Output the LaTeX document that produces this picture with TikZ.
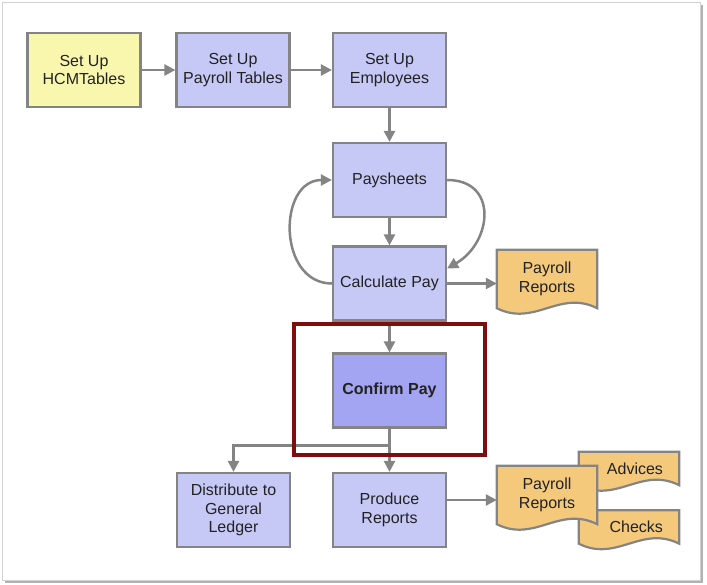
\documentclass[tikz,border=0pt]{standalone}
\usepackage{fontspec}
\setmainfont{Liberation Sans}
\usepackage{xcolor}
\usepackage{tikz}
\usetikzlibrary{arrows.meta}
\usetikzlibrary{backgrounds}

\definecolor{lineGray}{HTML}{848484}
\definecolor{stepFill}{HTML}{C6C8F6}
\definecolor{hcmFill}{HTML}{F9F7AE}
\definecolor{confFill}{HTML}{A3A5F2}
\definecolor{docFill}{HTML}{F5C97B}
\definecolor{markRed}{HTML}{7E0E0E}
\definecolor{txt}{HTML}{222222}

\begin{document}
\begin{tikzpicture}[
      >={Triangle[length=11pt, width=11pt]},
      x=1pt, y=-1pt,
      font=\fontsize{16}{18.5}\selectfont,
      stepbox/.style={draw=lineGray, line width=2.2pt, fill=stepFill, text=txt,
        minimum width=113pt, minimum height=74pt, align=center, inner sep=0pt},
      docnode/.style={minimum width=100pt, align=center, inner sep=0pt, text=txt},
      sidedoc/.style={docnode, text width=68pt, inner xsep=16pt, align=right},
      docline/.style={draw=lineGray, line width=2.2pt, fill=docFill},
      flow/.style={draw=lineGray, line width=2.5pt, ->},
      plain/.style={draw=lineGray, line width=2.5pt}
    ]
    \useasboundingbox (0,0) rectangle (707,584);

    % Cornice
    \draw[black!30, line width=2pt] (5,581.5) -- (701.5,581.5) -- (701.5,5);
    \draw[black!18, line width=1pt] (2.5,2.5) rectangle (700.5,580);

    % Passi
    \node[stepbox, fill=hcmFill] (hcm)  at (84,70)    {Set Up\\HCMTables};
    \node[stepbox] (payt) at (233,70)   {Set Up\\Payroll Tables};
    \node[stepbox] (emp)  at (389.5,70) {Set Up\\Employees};
    \node[stepbox] (pays) at (389.5,180) {Paysheets};
    \node[stepbox] (calc) at (389.5,283.5) {Calculate Pay};
    \node[stepbox, fill=confFill, font=\fontsize{16}{18.5}\selectfont\bfseries] (conf) at (389.5,390.5) {Confirm Pay};
    \node[stepbox] (dist) at (233.5,510) {Distribute to\\General\\Ledger};
    \node[stepbox] (prod) at (389.5,510) {Produce\\Reports};

    % Documenti
    \node[sidedoc, minimum height=33pt] (adv)  at (629,468.5) {Advices};
    \node[sidedoc, minimum height=33pt] (chk)  at (629,527)   {Checks};
    \node[docnode, minimum height=58pt] (rep)  at (547,279)   {Payroll\\Reports};
    \node[docnode, minimum height=58pt] (rep2) at (547,495)   {Payroll\\Reports};

    \begin{scope}[on background layer]
      \foreach \d in {adv, chk, rep, rep2}
        \path[docline] (\d.north west) -- (\d.north east) -- (\d.south east)
          .. controls ([xshift=-38pt, yshift=19pt]\d.south east)
          and ([xshift=38pt, yshift=-19pt]\d.south west) .. (\d.south west) -- cycle;
    \end{scope}

    % Frecce
    \draw[flow] (hcm) -- (payt);
    \draw[flow] (payt) -- (emp);
    \draw[flow] (emp) -- (pays);
    \draw[flow] (pays) -- (calc);
    \draw[flow] (calc) -- (calc -| rep.west);
    \draw[flow] (calc) -- (conf);
    \draw[flow] (calc.west) to[out=180, in=180, looseness=1.35] (pays.west);
    \draw[flow] (pays.east) to[out=0, in=30, looseness=1.5] ([yshift=15pt]calc.east);

    % Diramazione
    \coordinate (split) at ([yshift=-17pt]conf.south);
    \draw[plain] (conf) -- (split);
    \draw[flow] (split) -| (dist);
    \draw[flow] (split) -- (prod);
    \draw[flow] ([yshift=10pt]prod.east) -- ([yshift=10pt]prod.east -| rep2.west);

    % Evidenziazione
    \draw[markRed, line width=4pt] ([xshift=-38pt, yshift=28pt]conf.north west)
      rectangle ([xshift=38pt, yshift=-26pt]conf.south east);
  \end{tikzpicture}
\end{document}
